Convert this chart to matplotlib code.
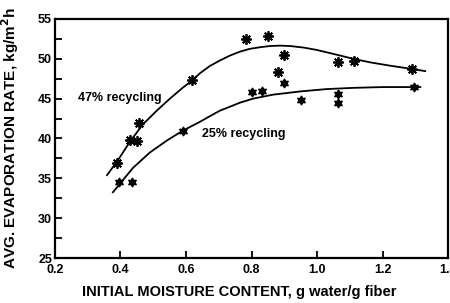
import numpy as np
import matplotlib.pyplot as plt
from matplotlib.ticker import MultipleLocator

plt.rcParams['font.family'] = ['Liberation Sans', 'DejaVu Sans']
plt.rcParams['font.weight'] = 'bold'

# 47% recycling data points
x47 = [0.389, 0.429, 0.45, 0.456, 0.618, 0.783, 0.85, 0.881, 0.899, 1.064, 1.113, 1.29]
y47 = [36.9, 39.8, 39.7, 42.0, 47.4, 52.5, 52.9, 48.3, 50.5, 49.6, 49.75, 48.7]

# 25% recycling data points
x25 = [0.395, 0.435, 0.59, 0.80, 0.832, 0.899, 0.951, 1.064, 1.064, 1.296]
y25 = [34.6, 34.6, 41.0, 45.8, 46.0, 46.9, 44.8, 45.6, 44.5, 46.4]

# fitted curves
cx47 = [0.359, 0.392, 0.429, 0.469, 0.511, 0.551, 0.591, 0.618, 0.643, 0.673, 0.704, 0.734,
        0.765, 0.795, 0.826, 0.856, 0.887, 0.918, 0.96, 1.0, 1.061, 1.11, 1.162, 1.22, 1.293, 1.33]
cy47 = [35.4, 37.25, 39.6, 41.8, 43.5, 45.0, 46.4, 47.25, 48.2, 49.1, 49.8, 50.4,
        50.9, 51.25, 51.45, 51.6, 51.65, 51.6, 51.4, 51.1, 50.5, 50.0, 49.55, 49.15, 48.7, 48.45]

cx25 = [0.377, 0.41, 0.438, 0.49, 0.542, 0.591, 0.643, 0.673, 0.704, 0.735, 0.765, 0.805,
        0.866, 0.948, 1.03, 1.11, 1.2, 1.315]
cy25 = [33.25, 34.9, 36.3, 38.25, 39.75, 41.0, 42.1, 42.8, 43.5, 44.0, 44.5, 45.0,
        45.5, 45.9, 46.2, 46.35, 46.45, 46.45]

fig = plt.figure(figsize=(4.5, 3.03), dpi=100)
ax = fig.add_axes([0.122, 0.1485, 0.874, 0.789])

ax.plot(cx47, cy47, color='black', lw=1.3)
ax.plot(cx25, cy25, color='black', lw=1.3)
ax.plot(x47, y47, linestyle='none', marker=(8, 2, 0), ms=7.5, mec='black', mew=1.3, color='black')
ax.plot(x47, y47, linestyle='none', marker='o', ms=3, color='black')
ax.plot(x25, y25, linestyle='none', marker=(6, 1, 0), ms=6.5, color='black')
ax.plot(x25, y25, linestyle='none', marker='o', ms=3.5, color='black')

ax.text(0.398, 45.1, '47% recycling', ha='center', va='center', fontsize=9, fontweight='bold')
ax.text(0.777, 40.5, '25% recycling', ha='center', va='center', fontsize=9, fontweight='bold')

ax.set_xlim(0.2, 1.4)
ax.set_ylim(25, 55)
ax.set_xticks([0.2, 0.4, 0.6, 0.8, 1.0, 1.2, 1.4])
ax.set_xticklabels(['0.2', '0.4', '0.6', '0.8', '1.0', '1.2', '1.4'])
ax.yaxis.set_major_locator(MultipleLocator(5))
ax.yaxis.set_minor_locator(MultipleLocator(2.5))
ax.tick_params(axis='both', which='both', direction='in', labelsize=9, width=1.3)
ax.tick_params(which='major', length=5)
ax.tick_params(which='minor', length=5)
ax.tick_params(axis='x', pad=4)
ax.tick_params(axis='y', pad=2)
for s in ax.spines.values():
    s.set_linewidth(1.6)

ax.set_xlabel('INITIAL MOISTURE CONTENT, g water/g fiber', fontsize=10.5, fontweight='bold')
ax.xaxis.set_label_coords(0.468, -0.115)
ax.set_ylabel('AVG. EVAPORATION RATE, kg/m$^2$h', fontsize=11, fontweight='bold')
ax.yaxis.set_label_coords(-0.085, 0.5)

fig.savefig('out.png', dpi=100)
